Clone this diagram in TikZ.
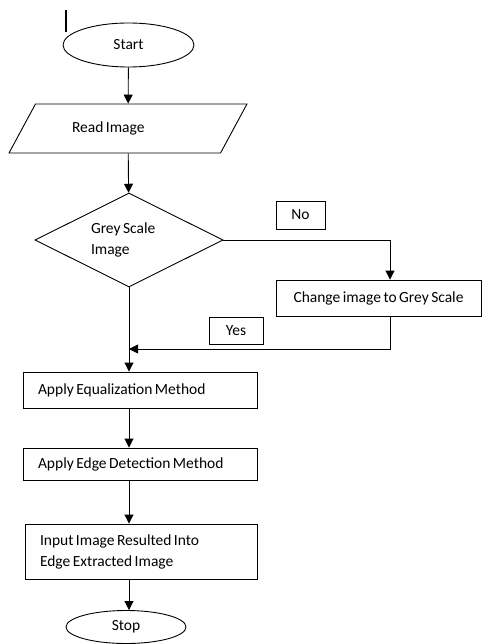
\documentclass[tikz,border=0pt]{standalone}
\usepackage{fontspec}
\setmainfont{Carlito}[WordSpace=0.7]
\usetikzlibrary{shapes.geometric}
\usetikzlibrary{arrows.meta}
\newcommand\nospread{\spaceskip=0pt\relax}

\begin{document}
\begin{tikzpicture}[x=1pt,y=-1pt,
  every node/.style={font=\fontsize{15.5}{21}\selectfont, draw, line width=.9pt,
    execute at begin node=\nospread},
  box/.style={rectangle, align=left, inner xsep=15pt, inner ysep=0pt},
  arr/.style={line width=.9pt, -{Triangle[length=9pt,width=9pt]}}]
\useasboundingbox (0,0) rectangle (483,644);
\draw[line width=1.6pt] (66,10)--(66,32);
\node[ellipse, minimum width=131pt, minimum height=44pt, inner sep=0] (start) at (128.5,45) {Start};
\node[trapezium, trapezium left angle=40, trapezium right angle=140, trapezium stretches=true,
  minimum width=238pt, minimum height=49pt, inner sep=0, text width=112pt, align=left] (read) at (128,128.5) {Read Image};
\node[diamond, aspect=2, minimum width=188pt, minimum height=94pt, inner sep=0,
  text width=76pt, align=left] (grey) at (129,240) {Grey Scale\\Image};
\node[minimum width=205pt, minimum height=36pt, inner sep=0] (change) at (378.5,298) {Change image to Grey Scale};
\node[minimum width=49pt, minimum height=28pt, inner sep=0] (no) at (300.5,215) {No};
\node[minimum width=54pt, minimum height=27pt, inner sep=0] (yes) at (236,330.5) {Yes};
\node[box, text width=204pt, minimum height=36pt] (equal) at (140,390) {Apply Equalization Method};
\node[box, text width=204pt, minimum height=32pt] (edge) at (140,464) {Apply Edge Detection Method};
\node[box, text width=202pt, minimum height=55pt] (input) at (141,551.5) {Input Image Resulted Into\\Edge Extracted Image};
\node[ellipse, minimum width=120pt, minimum height=33pt, inner sep=0] (stop) at (126,627) {Stop};
\coordinate (join) at (129,349);

\draw[arr] (start) -- (read);
\draw[arr] (read) -- (grey);
\draw[arr] (grey.east) -| ([xshift=11.5pt]change.north);
\draw[arr] ([xshift=11.5pt]change.south) |- (join);
\draw[arr] (grey.south) -- (grey.south |- equal.north);
\draw[arr] (grey.south |- equal.south) -- (grey.south |- edge.north);
\draw[arr] (grey.south |- edge.south) -- (grey.south |- input.north);
\draw[arr] (grey.south |- input.south) -- (grey.south |- stop.north);
\end{tikzpicture}
\end{document}
